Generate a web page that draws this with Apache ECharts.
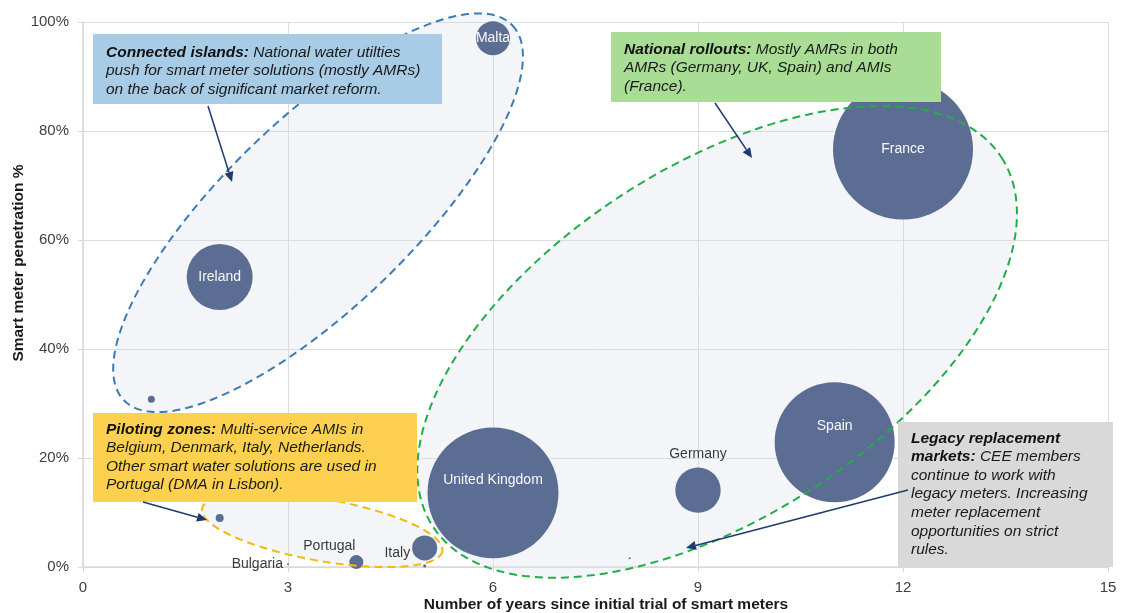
<!DOCTYPE html>
<html>
<head>
<meta charset="utf-8">
<script src="https://cdn.jsdelivr.net/npm/echarts@6/dist/echarts.min.js"></script>
<style>
  html, body { margin: 0; padding: 0; background: #ffffff; }
  #chart { width: 1122px; height: 613px; }
</style>
</head>
<body>
<div id="chart"></div>
<script>
// Countries (empty name = unlabelled small markets)
const countryNames   = ['Malta', 'Ireland', '', 'France', 'United Kingdom', 'Germany', 'Spain', 'Italy', 'Portugal', 'Bulgaria', '', '', ''];
// Years since the first smart meter trial
const yearsSinceTrial = [6, 2, 1, 12, 6, 9, 11, 5, 4, 3, 2, 5, 8];
// Smart meter penetration, %
const penetrationPct  = [97, 53.2, 30.8, 76.6, 13.6, 14.1, 22.9, 3.5, 0.9, 0.5, 9, 0.2, 1.6];
// Relative market size (bubble area)
const marketSize      = [5.9, 22.2, 0.25, 100, 87.5, 10.5, 73.5, 3.2, 1.0, 0.02, 0.33, 0.05, 0.02];

// Axis ticks
const xTicks = [0, 3, 6, 9, 12, 15];
const yTicks = [0, 20, 40, 60, 80, 100];

// Market clusters: centre in chart units
const clusterNames       = ['Connected islands', 'National rollouts', 'Piloting zones'];
const clusterCentreYears = [3.44, 9.28, 3.5];
const clusterCentrePct   = [65, 41.3, 6.8];

// Cluster outline geometry and colours
const clusterShapes = [
  { rx: 270, ry: 94,  angle: 44,  stroke: '#3c7cb5' },
  { rx: 339, ry: 175, angle: 33,  stroke: '#22ad4b' },
  { rx: 122, ry: 31,  angle: -10, stroke: '#f3b90c' }
];

const FONT = '"Liberation Sans", Arial, sans-serif';
const BUBBLE = '#55678f';
const AXIS_GREY = '#d9d9d9';

// Label placement for each named bubble
const labelPlacement = {
  'Malta':          { position: 'inside', color: '#ffffff' },
  'Ireland':        { position: 'inside', color: '#ffffff' },
  'France':         { position: 'inside', color: '#ffffff' },
  'United Kingdom': { position: 'inside', color: '#ffffff', offset: [0, -13] },
  'Spain':          { position: 'inside', color: '#ffffff', offset: [0, -16] },
  'Germany':        { position: 'top', color: '#333333', distance: 6 },
  'Italy':          { position: 'left', color: '#333333', distance: 2, offset: [0, 5] },
  'Portugal':       { position: 'top', color: '#333333', distance: 4, offset: [-27, 2] },
  'Bulgaria':       { position: 'left', color: '#333333', distance: 4 }
};

const bubbleData = countryNames.map((name, i) => {
  const item = { name: name, value: [yearsSinceTrial[i], penetrationPct[i], marketSize[i]] };
  const p = labelPlacement[name];
  item.label = p
    ? Object.assign({ show: true, formatter: '{b}', fontSize: 14, fontFamily: FONT }, p)
    : { show: false };
  return item;
});

const clusterData = clusterNames.map((n, i) => ({ name: n, value: [clusterCentreYears[i], clusterCentrePct[i]] }));

function ellipsePoints(c, s) {
  const th = s.angle * Math.PI / 180;
  const pts = [];
  for (let k = 0; k <= 160; k++) {
    const t = k / 160 * Math.PI * 2;
    pts.push([
      c[0] + s.rx * Math.cos(t) * Math.cos(th) + s.ry * Math.sin(t) * Math.sin(th),
      c[1] - s.rx * Math.cos(t) * Math.sin(th) + s.ry * Math.sin(t) * Math.cos(th)
    ]);
  }
  return pts;
}

function clusterRenderer(fillOnly) {
  return function (params, api) {
    const c = api.coord([api.value(0), api.value(1)]);
    const s = clusterShapes[params.dataIndex];
    return {
      type: 'polygon',
      shape: { points: ellipsePoints(c, s) },
      style: fillOnly
        ? { fill: 'rgba(214,221,233,0.3)', stroke: null }
        : { fill: null, stroke: s.stroke, lineWidth: 2, lineDash: [8, 5] },
      silent: true
    };
  };
}

// Callout boxes
function box(x, y, w, h, fill) {
  return { type: 'rect', z: 20, shape: { x: x, y: y, width: w, height: h }, style: { fill: fill } };
}
function note(x, y, text) {
  return {
    type: 'text', z: 21, x: x, y: y,
    style: {
      text: text,
      fill: '#1a1a1a',
      rich: {
        b: { fontFamily: FONT, fontSize: 15.5, fontStyle: 'italic', fontWeight: 'bold', lineHeight: 18.6, fill: '#111111' },
        i: { fontFamily: FONT, fontSize: 15.5, fontStyle: 'italic', lineHeight: 18.6, fill: '#1a1a1a' }
      }
    }
  };
}
function arrow(x1, y1, x2, y2) {
  const ang = Math.atan2(y2 - y1, x2 - x1);
  const L = 10, W = 4.5;
  const bx = x2 - L * Math.cos(ang), by = y2 - L * Math.sin(ang);
  return [
    { type: 'line', z: 22, shape: { x1: x1, y1: y1, x2: bx, y2: by }, style: { stroke: '#1f3a6e', lineWidth: 1.5 } },
    { type: 'polygon', z: 22, shape: { points: [[x2, y2], [bx - W * Math.sin(ang), by + W * Math.cos(ang)], [bx + W * Math.sin(ang), by - W * Math.cos(ang)]] }, style: { fill: '#1f3a6e' } }
  ];
}

const graphics = [].concat(
  arrow(208, 106, 232, 182),
  arrow(715, 103, 752, 158),
  arrow(143, 502, 207, 520),
  arrow(908, 490, 686, 548),
  [
    box(93, 34, 349, 70, '#a8cbe6'),
    note(106, 43, '{b|Connected islands:}{i| National water utilties}\n{i|push for smart meter solutions (mostly AMRs)}\n{i|on the back of significant market reform.}'),
    box(611, 32, 330, 70, '#a9dc94'),
    note(624, 40, '{b|National rollouts:}{i| Mostly AMRs in both}\n{i|AMRs (Germany, UK, Spain) and AMIs}\n{i|(France).}'),
    box(93, 413, 324, 89, '#fdd14f'),
    note(106, 420, '{b|Piloting zones:}{i| Multi-service AMIs in}\n{i|Belgium, Denmark, Italy, Netherlands.}\n{i|Other smart water solutions are used in}\n{i|Portugal (DMA in Lisbon).}'),
    box(898, 422, 215, 145, '#d9d9d9'),
    note(911, 429, '{b|Legacy replacement}\n{b|markets:}{i| CEE members}\n{i|continue to work with}\n{i|legacy meters. Increasing}\n{i|meter replacement}\n{i|opportunities on strict}\n{i|rules.}')
  ]
);

const chart = echarts.init(document.getElementById('chart'), null, { renderer: 'canvas' });
chart.setOption({
  animation: false,
  backgroundColor: '#ffffff',
  grid: { left: 83, right: 14, top: 22, bottom: 46, containLabel: false, outerBoundsMode: 'none' },
  xAxis: {
    type: 'value',
    min: xTicks[0], max: xTicks[xTicks.length - 1], interval: xTicks[1] - xTicks[0],
    name: 'Number of years since initial trial of smart meters',
    nameLocation: 'middle', nameGap: 30, nameMoveOverlap: false,
    nameTextStyle: { fontFamily: FONT, fontSize: 15.5, fontWeight: 'bold', color: '#1a1a1a', padding: [0, 0, 0, 21] },
    axisLine: { show: true, lineStyle: { color: AXIS_GREY, width: 1.5 } },
    axisTick: { show: true, length: 5, lineStyle: { color: AXIS_GREY, width: 1 } },
    axisLabel: { fontFamily: FONT, fontSize: 15, color: '#404040', margin: 13 },
    splitLine: { show: true, lineStyle: { color: '#dcdcdc', width: 1 } }
  },
  yAxis: {
    type: 'value',
    min: yTicks[0], max: yTicks[yTicks.length - 1], interval: yTicks[1] - yTicks[0],
    name: 'Smart meter penetration %',
    nameLocation: 'middle', nameGap: 56, nameMoveOverlap: false,
    nameTextStyle: { fontFamily: FONT, fontSize: 15.5, fontWeight: 'bold', color: '#1a1a1a', padding: [0, 0, 0, 63] },
    axisLine: { show: true, lineStyle: { color: AXIS_GREY, width: 1.5 } },
    axisTick: { show: true, length: 5, lineStyle: { color: AXIS_GREY, width: 1 } },
    axisLabel: { fontFamily: FONT, fontSize: 15, color: '#404040', margin: 14, formatter: '{value}%' },
    splitLine: { show: true, lineStyle: { color: '#dcdcdc', width: 1 } }
  },
  series: [
    {
      type: 'custom', name: 'cluster-fill', z: 1, silent: true,
      renderItem: clusterRenderer(true), data: clusterData
    },
    {
      type: 'scatter', name: 'markets', z: 2,
      data: bubbleData,
      symbolSize: function (v) { return Math.max(2, Math.sqrt(v[2]) * 14); },
      itemStyle: { color: BUBBLE, opacity: 0.96 },
      emphasis: { disabled: true }
    },
    {
      type: 'custom', name: 'cluster-outline', z: 3, silent: true,
      renderItem: clusterRenderer(false), data: clusterData
    }
  ],
  graphic: graphics
});
</script>
</body>
</html>
